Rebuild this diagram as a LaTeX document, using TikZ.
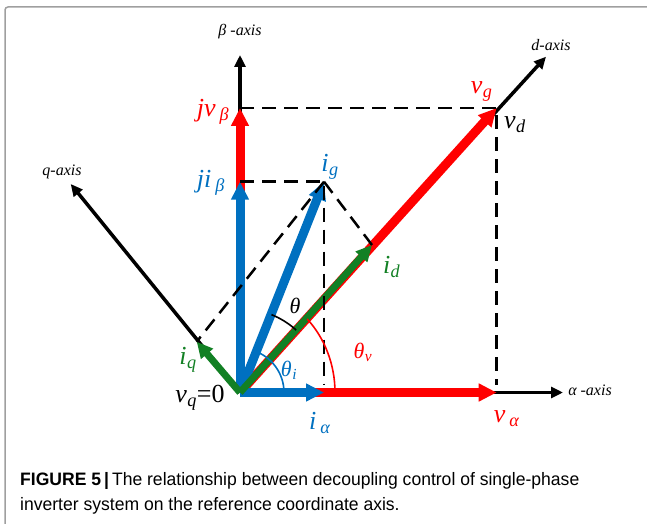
\documentclass[tikz,border=0pt]{standalone}
\usepackage{fontspec}
\setmainfont{Liberation Serif}
\newfontfamily\capfont[FakeStretch=0.975]{Liberation Sans}
\usepackage{xcolor}
\usetikzlibrary{arrows.meta}
\definecolor{vred}{RGB}{255,0,0}
\definecolor{iblue}{RGB}{0,112,192}
\definecolor{dgreen}{RGB}{18,128,36}
\newcommand{\sym}[3][0.5pt]{\textit{#2}\textsubscript{\kern#1\textit{#3}}}
\newcommand{\lblsize}{\fontsize{26}{28}\selectfont}
\newcommand{\angsize}{\fontsize{22}{24}\selectfont}
\newcommand{\axsize}{\fontsize{16}{18}\selectfont\itshape}
\tikzset{
  vecarr/.style   = {-{Triangle[length=18pt,width=17pt]},line width=9pt},
  comparr/.style  = {-{Triangle[length=16pt,width=15pt]},line width=7pt},
  axisarr/.style  = {-{Triangle[length=12pt,width=11pt]},line width=3.5pt},
  projline/.style = {line width=2.5pt,dash pattern=on 14pt off 8pt},
  anglearc/.style = {line width=1.6pt}
}

\begin{document}
\begin{tikzpicture}[x=1pt,y=1pt]
  \useasboundingbox (0,0) rectangle (647,523);
  \clip (0,0) rectangle (647,523);
  \draw[gray!75,line width=1.5pt,rounded corners=3pt] (5,516) rectangle (700,-40);
  % origin and tips of the vectors
  \coordinate (O)    at (240,130.5);
  \coordinate (aend) at (563,130.5);
  \coordinate (bend) at (240,468);
  \coordinate (dend) at (546,466.3);
  \coordinate (qend) at (70.7,339);
  \coordinate (vg)   at (496.7,415);
  \coordinate (va)   at (496.7,130.5);
  \coordinate (vb)   at (240,415);
  \coordinate (ig)   at (324,341.3);
  \coordinate (ia)   at (324,130.5);
  \coordinate (ib)   at (240,341.3);
  \coordinate (id)   at (372,278);
  \coordinate (iq)   at (196.7,181.3);
  \coordinate (vafoot) at (496.7,138);
  \coordinate (iafoot) at (324,138);
  % axes
  \draw[axisarr] (O) -- (aend);
  \draw[axisarr] (O) -- (bend);
  \draw[axisarr] (O) -- (dend);
  \draw[axisarr] (O) -- (qend);
  % voltage, then current, then dq components on top
  \draw[vecarr,vred]  (O) -- (va);
  \draw[vecarr,vred]  (O) -- (vb);
  \draw[vecarr,vred]  (O) -- (vg);
  \draw[vecarr,iblue] (O) -- (ia);
  \draw[vecarr,iblue] (O) -- (ib);
  \draw[vecarr,iblue] (O) -- (ig);
  \draw[comparr,dgreen] (O) -- (id);
  \draw[comparr,dgreen] (O) -- (iq);
  % projections
  \draw[projline] (vb) -- (vg) -- (vafoot);
  \draw[projline] (ib) -- (ig) -- (iafoot);
  \draw[projline] (ig) -- (id);
  \draw[projline] (ig) -- (iq);
  % angles
  \draw[anglearc,iblue] (O) ++(44,0) arc[start angle=0,end angle=68,radius=44];
  \draw[anglearc,vred]  (O) ++(95,0) arc[start angle=0,end angle=45,x radius=95,y radius=104];
  \draw[anglearc,black] (O) ++(48:84) arc[start angle=48,end angle=68,radius=84];
  % labels
  \node[font=\axsize] (blbl) at (240,491.3) {β -axis};
  \node[font=\axsize] (dlbl) at (551,478)   {d-axis};
  \node[font=\axsize] (qlbl) at (62,351)    {q-axis};
  \node[font=\axsize] (albl) at (590,132.3) {α -axis};
  \node[font=\lblsize,vred]  (vglbl) at (481.7,431.3) {\sym{v}{g}};
  \node[font=\lblsize,vred]  (vblbl) at (213,411.3)   {\sym[4pt]{jv}{β}};
  \node[font=\lblsize,vred]  (valbl) at (506.7,104.7) {\sym[4pt]{v}{α}};
  \node[font=\lblsize,iblue] (iblbl) at (211,340)     {\sym[4pt]{ji}{β}};
  \node[font=\lblsize,iblue] (iglbl) at (330,356.3)   {\sym{i}{g}};
  \node[font=\lblsize,iblue] (ialbl) at (320,100)     {\sym[4pt]{i}{α}};
  \node[font=\lblsize,dgreen] (idlbl) at (391.7,256.3) {\sym{i}{d}};
  \node[font=\lblsize,dgreen] (iqlbl) at (188,163)     {\sym{i}{q}};
  \node[font=\lblsize] (vdlbl) at (515,398) {\sym{v}{d}};
  \node[font=\lblsize] (vqlbl) at (200,125) {\sym{v}{q}=0};
  \node[font=\angsize\itshape]       (thlbl)  at (295,217) {θ};
  \node[font=\angsize,vred]          (thvlbl) at (363,171) {\sym{θ}{v}};
  \node[font=\angsize,iblue]         (thilbl) at (289,153) {\sym{θ}{i}};
  % caption
  \node[anchor=base west,inner sep=0pt,font=\capfont\fontsize{18}{20}\selectfont] (cap1) at (20,38)
    {\textbf{FIGURE 5\,|}\,The relationship between decoupling control of single-phase};
  \node[anchor=base west,inner sep=0pt,font=\capfont\fontsize{18}{20}\selectfont] (cap2) at (20,13)
    {inverter system on the reference coordinate axis.};
\end{tikzpicture}
\end{document}
